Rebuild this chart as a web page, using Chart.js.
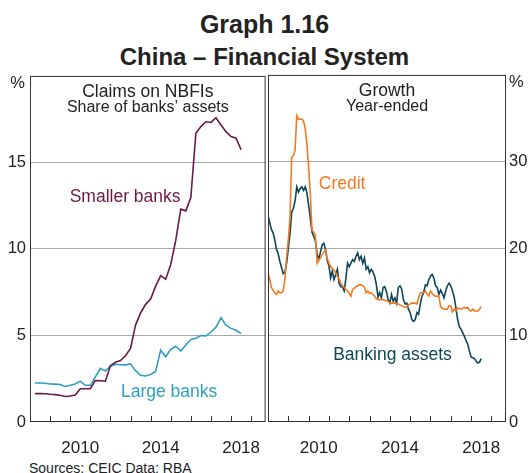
<!DOCTYPE html>
<html>
<head>
<meta charset="utf-8">
<script src="https://cdn.jsdelivr.net/npm/chart.js@4.4.0/dist/chart.umd.min.js"></script>
<style>
  body { margin: 0; width: 529px; height: 473px; overflow: hidden; background: #fff;
         font-family: 'Liberation Sans', Arial, sans-serif; color: #222; position: relative; }
  .hd { position: absolute; left: 0; width: 529px; text-align: center; font-weight: bold; line-height: 30px; }
  #title { top: 9px; font-size: 25px; }
  #subtitle { top: 42px; font-size: 24px; }
  #left { position: absolute; left: 0; top: 62px; }
  #right { position: absolute; left: 268px; top: 62px; }
  #source { position: absolute; left: 29px; top: 460px; font-size: 14px; line-height: 16px; }
</style>
</head>
<body>
<div id="title" class="hd">Graph 1.16</div>
<div id="subtitle" class="hd">China – Financial System</div>
<canvas id="left" width="268" height="392"></canvas>
<canvas id="right" width="261" height="392"></canvas>
<div id="source">Sources: CEIC Data; RBA</div>
<script>
// quarterly, Mar 2008 to Jun 2018
const quarterStart = 2008.25;
const smallerBanks = [1.64, 1.64, 1.63, 1.60, 1.58, 1.55, 1.47, 1.50, 1.56, 1.92,
  1.92, 1.93, 2.40, 2.38, 2.36, 3.25, 3.45, 3.55, 3.83, 4.25,
  5.60, 6.30, 6.80, 7.10, 7.85, 8.46, 8.25, 9.10, 10.50, 12.30,
  12.20, 12.97, 16.69, 17.07, 17.35, 17.31, 17.58, 17.16, 16.78, 16.50,
  16.40, 15.73];
const largeBanks = [2.25, 2.25, 2.24, 2.20, 2.19, 2.17, 2.05, 2.12, 2.20, 2.36,
  2.12, 2.12, 2.60, 3.10, 2.95, 3.22, 3.34, 3.31, 3.30, 3.36,
  2.97, 2.70, 2.66, 2.75, 2.92, 4.15, 3.77, 4.20, 4.38, 4.10,
  4.45, 4.77, 4.84, 5.00, 4.97, 5.20, 5.48, 6.02, 5.60, 5.41,
  5.30, 5.11];

// monthly, from Jan 2008
const monthStart = 2008;
const credit = [17.2, 16.5, 15.5, 15.2, 14.9, 14.7, 15.1, 14.9, 14.9, 15.1,
  16.5, 19.0, 21.0, 23.5, 30.5, 30.7, 31.3, 35.3, 34.9, 34.9,
  34.9, 34.7, 33.8, 32.0, 29.4, 26.3, 22.1, 21.9, 21.5, 18.3,
  18.7, 18.9, 19.3, 19.6, 19.8, 18.9, 18.3, 17.9, 17.7, 17.5,
  17.2, 16.8, 16.5, 16.0, 15.7, 15.5, 15.3, 15.1, 14.8, 14.5,
  15.3, 15.4, 15.6, 15.7, 15.8, 15.8, 15.7, 15.5, 14.9, 15.1,
  14.8, 14.9, 14.7, 14.5, 14.2, 14.1, 14.1, 14.1, 14.1, 14.0,
  14.0, 13.9, 13.7, 13.7, 13.7, 13.7, 13.6, 13.6, 13.5, 13.4,
  13.3, 13.2, 13.3, 13.5, 13.6, 13.7, 13.7, 13.7, 13.6, 14.3,
  14.9, 14.9, 14.9, 15.1, 14.8, 14.5, 15.1, 14.8, 14.6, 14.5,
  14.5, 14.5, 13.3, 13.1, 13.0, 13.0, 13.0, 13.4, 13.4, 12.7,
  13.0, 12.8, 13.1, 13.1, 13.0, 13.1, 13.2, 13.1, 13.2, 12.9,
  12.8, 13.0, 12.8, 12.8, 12.8, 13.0, 13.3];
const bankingAssets = [23.8, 23.0, 22.2, 21.8, 21.0, 19.9, 19.4, 18.5, 17.8, 17.1,
  17.3, 18.3, 20.0, 21.7, 24.2, 24.6, 25.5, 27.1, 26.5, 26.9,
  27.1, 26.7, 27.1, 26.4, 25.0, 23.5, 21.9, 21.4, 20.9, 19.4,
  18.7, 19.6, 20.4, 20.6, 19.9, 18.6, 18.0, 16.6, 17.4, 16.4,
  17.0, 17.6, 16.0, 15.6, 15.6, 15.1, 16.5, 18.3, 17.9, 18.3,
  18.7, 18.5, 19.1, 19.5, 18.7, 19.1, 18.3, 18.9, 17.6, 17.9,
  17.2, 17.6, 17.3, 16.8, 15.9, 14.4, 14.9, 14.3, 15.5, 15.6,
  15.0, 14.1, 13.7, 14.7, 13.9, 14.3, 13.7, 15.5, 15.7, 15.3,
  14.1, 13.6, 13.7, 13.0, 12.6, 11.8, 11.6, 11.8, 12.6, 12.4,
  13.6, 14.5, 14.9, 15.8, 15.7, 16.4, 16.8, 17.0, 16.6, 15.7,
  15.5, 14.7, 15.2, 14.8, 14.3, 15.1, 15.7, 16.0, 15.7, 15.1,
  14.4, 13.2, 11.9, 11.0, 10.7, 10.3, 9.9, 9.4, 9.0, 8.2,
  7.5, 7.4, 7.3, 7.0, 6.8, 6.9, 7.3];

const yearLabels = [2010, 2014, 2018];
const leftTicks = [0, 5, 10, 15, 20];
const rightTicks = [0, 10, 20, 30, 40];

const FONT = "'Liberation Sans', Arial, sans-serif";
Chart.defaults.font.family = FONT;
Chart.defaults.color = '#222';

const quarterly = vals => vals.map((v, i) => ({ x: quarterStart + i / 4, y: v }));
const monthly = vals => vals.map((v, i) => ({ x: monthStart + i / 12, y: v }));

// frame, inward year ticks, panel titles, series labels, % sign
const panelDecor = {
  id: 'panelDecor',
  afterDraw(chart, args, o) {
    const { ctx, chartArea: a, scales } = chart;
    const xs = scales.x, ys = scales.y;
    ctx.save();
    ctx.strokeStyle = '#333';
    ctx.lineWidth = 1;
    ctx.beginPath();
    for (let yr = Math.ceil(xs.min); yr <= xs.max; yr++) {
      const px = Math.round(xs.getPixelForValue(yr)) + 0.5;
      if (px <= a.left + 1 || px >= a.right - 1) continue;
      ctx.moveTo(px, a.bottom);
      ctx.lineTo(px, a.bottom - 6);
    }
    ctx.stroke();
    ctx.strokeRect(a.left + 0.5, a.top + 0.5, a.right - a.left - 1, a.bottom - a.top - 1);

    const cx = (a.left + a.right) / 2;
    ctx.fillStyle = '#222';
    ctx.textAlign = 'center';
    ctx.textBaseline = 'alphabetic';
    ctx.font = '17.5px ' + FONT;
    ctx.fillText(o.title, cx, a.top + 21);
    ctx.font = '16px ' + FONT;
    ctx.fillText(o.subtitle, cx, a.top + 36);

    ctx.font = '17.5px ' + FONT;
    o.labels.forEach(l => {
      ctx.fillStyle = l.color;
      ctx.fillText(l.text, xs.getPixelForValue(l.x), ys.getPixelForValue(l.y));
    });

    ctx.fillStyle = '#222';
    ctx.font = '16.5px ' + FONT;
    ctx.textBaseline = 'middle';
    if (o.side === 'left') {
      ctx.textAlign = 'right';
      ctx.fillText('%', a.left - 5, a.top + 8);
    } else {
      ctx.textAlign = 'left';
      ctx.fillText('%', a.right + 3, a.top + 8);
    }
    ctx.restore();
  }
};

function xAxis() {
  return {
    type: 'linear', min: 2008, max: 2019.72,
    grid: { display: false }, border: { display: false },
    afterBuildTicks: s => { s.ticks = yearLabels.map(y => ({ value: y + 0.5 })); },
    afterFit: s => { s.height = 32; },
    ticks: { autoSkip: false, maxRotation: 0, padding: 8, font: { size: 17 },
             callback: v => Math.floor(v) }
  };
}

function yAxis(side, ticks, width) {
  const top = ticks[ticks.length - 1];
  return {
    position: side, min: 0, max: top,
    afterBuildTicks: s => { s.ticks = ticks.map(v => ({ value: v })); },
    afterFit: s => { s.width = width; },
    border: { display: false },
    grid: { drawTicks: false, lineWidth: 1,
            color: c => (c.tick.value === 0 || c.tick.value === top) ? 'rgba(0,0,0,0)' : '#a8a8a8' },
    ticks: { padding: side === 'left' ? 4 : 3, font: { size: 16.5 },
             callback: v => v === top ? '' : v }
  };
}

function line(data, color) {
  return { data, borderColor: color, borderWidth: 1.6, pointRadius: 0, fill: false, tension: 0 };
}

const common = {
  responsive: false, animation: false, devicePixelRatio: 1,
  plugins: { legend: { display: false }, tooltip: { enabled: false } }
};

new Chart(document.getElementById('left'), {
  type: 'line',
  data: { datasets: [
    line(quarterly(smallerBanks), '#6b1a45'),
    line(quarterly(largeBanks), '#2f9fc4')
  ] },
  options: Object.assign({}, common, {
    layout: { padding: { top: 10, left: 0, right: 0, bottom: 0 } },
    scales: { x: xAxis(), y: yAxis('left', leftTicks, 30) },
    plugins: Object.assign({}, common.plugins, {
      panelDecor: {
        side: 'left', title: 'Claims on NBFIs', subtitle: 'Share of banks’ assets',
        labels: [
          { text: 'Smaller banks', x: 2012.73, y: 12.69, color: '#6b1a45' },
          { text: 'Large banks', x: 2014.92, y: 1.45, color: '#2f9fc4' }
        ]
      }
    })
  }),
  plugins: [panelDecor]
});

new Chart(document.getElementById('right'), {
  type: 'line',
  data: { datasets: [
    line(monthly(credit), '#f47a21'),
    line(monthly(bankingAssets), '#0f4658')
  ] },
  options: Object.assign({}, common, {
    layout: { padding: { top: 10, left: 0, right: 0, bottom: 0 } },
    scales: { x: xAxis(), y: yAxis('right', rightTicks, 23) },
    plugins: Object.assign({}, common.plugins, {
      panelDecor: {
        side: 'right', title: 'Growth', subtitle: 'Year-ended',
        labels: [
          { text: 'Credit', x: 2011.65, y: 26.9, color: '#f47a21' },
          { text: 'Banking assets', x: 2014.13, y: 7.09, color: '#0f4658' }
        ]
      }
    })
  }),
  plugins: [panelDecor]
});
</script>
</body>
</html>
